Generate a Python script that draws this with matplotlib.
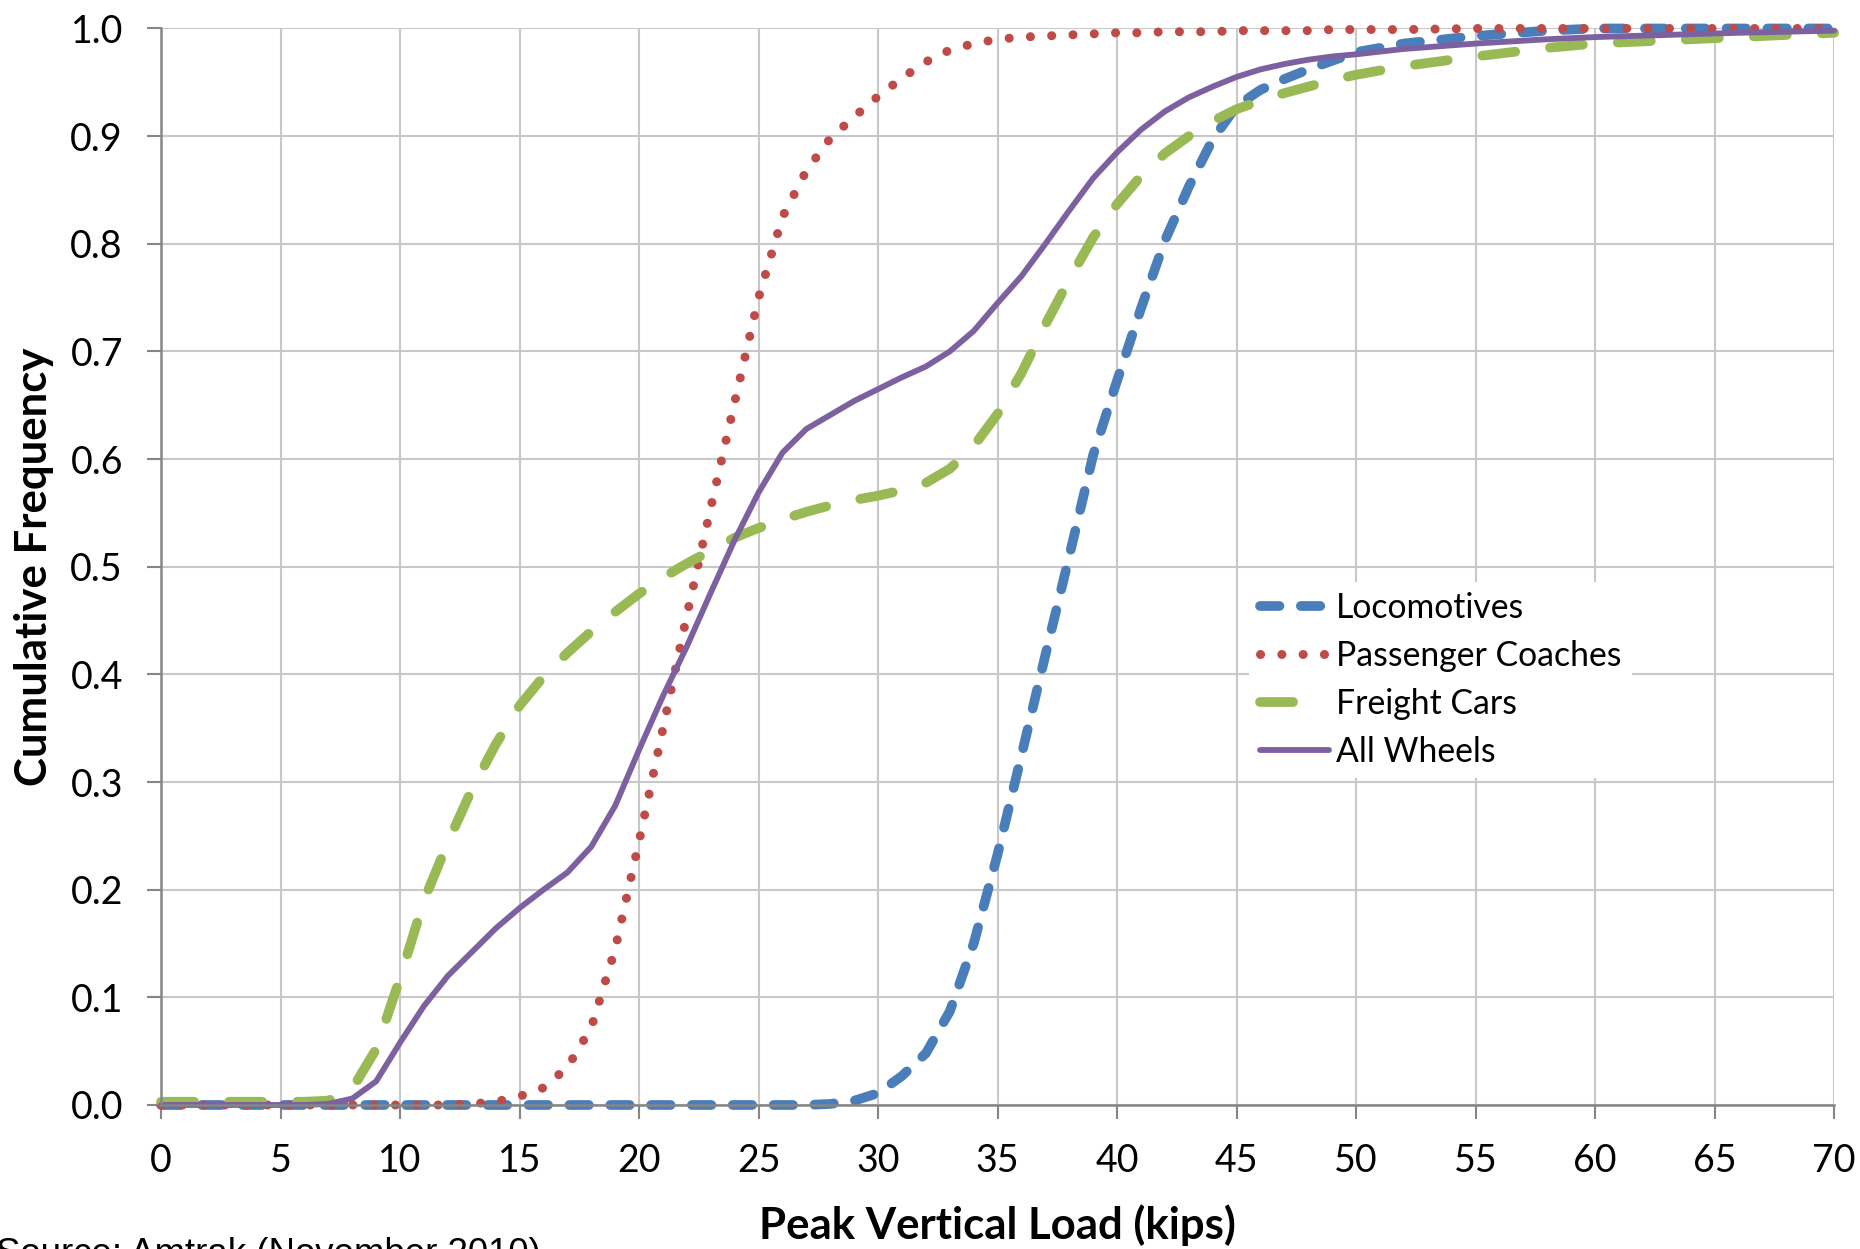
import matplotlib
matplotlib.use("Agg")
import matplotlib.pyplot as plt
from matplotlib.lines import Line2D

plt.rcParams['font.family'] = ['Lato', 'DejaVu Sans']

# peak vertical load (kips), same grid for all four series
load = list(range(0, 51)) + [52, 55, 58, 60, 63, 66, 70]

locomotives = [0.0] * 28 + [0.001, 0.004, 0.011, 0.027, 0.048, 0.087, 0.15, 0.233, 0.325, 0.418,
               0.51, 0.604, 0.673, 0.74, 0.803, 0.853, 0.897, 0.928, 0.943, 0.953,
               0.962, 0.97, 0.978, 0.986, 0.993, 0.998, 1.0, 1.0, 1.0, 1.0]

passenger = [0.0] * 13 + [0.001, 0.003, 0.008, 0.016, 0.035, 0.072, 0.145, 0.245, 0.35, 0.455,
             0.555, 0.653, 0.75, 0.825, 0.868, 0.898, 0.918, 0.937, 0.954, 0.969,
             0.98, 0.986, 0.99, 0.992, 0.993, 0.994, 0.995, 0.996, 0.996, 0.997,
             0.997, 0.997, 0.998, 0.998, 0.998, 0.998, 0.999, 0.999, 0.999, 1.0,
             1.0, 1.0, 1.0, 1.0, 1.0]

freight = [0.003] * 7 + [0.004, 0.015, 0.052, 0.118, 0.19, 0.244, 0.293, 0.335, 0.371, 0.398,
           0.42, 0.44, 0.458, 0.475, 0.49, 0.503, 0.515, 0.527, 0.536, 0.544,
           0.551, 0.557, 0.562, 0.566, 0.571, 0.578, 0.591, 0.612, 0.642, 0.68,
           0.725, 0.767, 0.806, 0.837, 0.863, 0.884, 0.9, 0.914, 0.925, 0.933,
           0.94, 0.946, 0.952, 0.957, 0.965, 0.974, 0.982, 0.986, 0.989, 0.992, 0.996]

all_wheels = [0.0] * 7 + [0.001, 0.006, 0.022, 0.058, 0.092, 0.12, 0.142, 0.164, 0.183, 0.2,
              0.216, 0.24, 0.278, 0.33, 0.38, 0.426, 0.476, 0.525, 0.569, 0.606,
              0.628, 0.641, 0.654, 0.665, 0.676, 0.686, 0.7, 0.719, 0.745, 0.77,
              0.8, 0.831, 0.861, 0.885, 0.906, 0.923, 0.936, 0.946, 0.955, 0.962,
              0.967, 0.971, 0.974, 0.976, 0.981, 0.986, 0.99, 0.992, 0.994, 0.996, 0.998]

names = ['Locomotives', 'Passenger Coaches', 'Freight Cars', 'All Wheels']
colors = ['#4A7EBB', '#BE4B48', '#98B954', '#7D60A0']

x_ticks = list(range(0, 71, 5))
y_ticks = [i / 10 for i in range(11)]

fig = plt.figure(figsize=(18.6, 12.49), dpi=100)
ax = fig.add_axes([0.0866, 0.1153, 0.8995, 0.8619])

# same draw order as the original chart, all wheels on top
ax.plot(load, locomotives, color=colors[0], lw=7, dashes=(2.0, 2.2), dash_capstyle='round', clip_on=False)
ax.plot(load, passenger, color=colors[1], lw=6.5, dashes=(0.01, 2.35), dash_capstyle='round', clip_on=False)
ax.plot(load, freight, color=colors[2], lw=7, dashes=(3.4, 3.6), dash_capstyle='round', clip_on=False)
ax.plot(load, all_wheels, color=colors[3], lw=4.2, solid_capstyle='round', clip_on=False)

ax.set_xlim(0, 70)
ax.set_ylim(0, 1.0)
ax.set_xticks(x_ticks)
ax.set_yticks(y_ticks)
ax.set_yticklabels(['%.1f' % v for v in y_ticks])
ax.grid(True, color='#C8C8C8', lw=1.5)
ax.set_axisbelow(True)

for side in ['top', 'right']:
    ax.spines[side].set_visible(False)
for side in ['left', 'bottom']:
    ax.spines[side].set_color('#868686')
    ax.spines[side].set_linewidth(1.8)
ax.tick_params(direction='out', length=10, width=1.5, color='#868686', labelsize=27, pad=17.5)

ax.set_xlabel('Peak Vertical Load (kips)', fontsize=31.5, fontweight='bold')
ax.set_ylabel('Cumulative Frequency', fontsize=31.5, fontweight='bold')
ax.xaxis.set_label_coords(0.5, -0.092)
ax.yaxis.set_label_coords(-0.064, 0.5)

# legend proxies so the freight sample shows a single dash like the original
handles = [
    Line2D([], [], color=colors[0], lw=7, dashes=(2.0, 2.2), dash_capstyle='round'),
    Line2D([], [], color=colors[1], lw=6.5, dashes=(0.01, 2.35), dash_capstyle='round'),
    Line2D([], [], color=colors[2], lw=7, dashes=(3.4, 6.0), dash_capstyle='round'),
    Line2D([], [], color=colors[3], lw=4.2, solid_capstyle='round'),
]
leg = ax.legend(handles, names, loc='upper left', bbox_to_anchor=(0.6505, 0.486), fontsize=24.3,
                frameon=True, handlelength=2.07, handletextpad=0.2, labelspacing=0.47,
                borderpad=0.3, borderaxespad=0)
leg.get_frame().set_facecolor('white')
leg.get_frame().set_edgecolor('none')
leg.get_frame().set_alpha(1)

fig.text(-0.002, 0.0096, 'Source: Amtrak (November 2010)', fontsize=26.4, va='top',
         family=['Liberation Sans', 'DejaVu Sans'])

plt.savefig('out.png', dpi=100)
